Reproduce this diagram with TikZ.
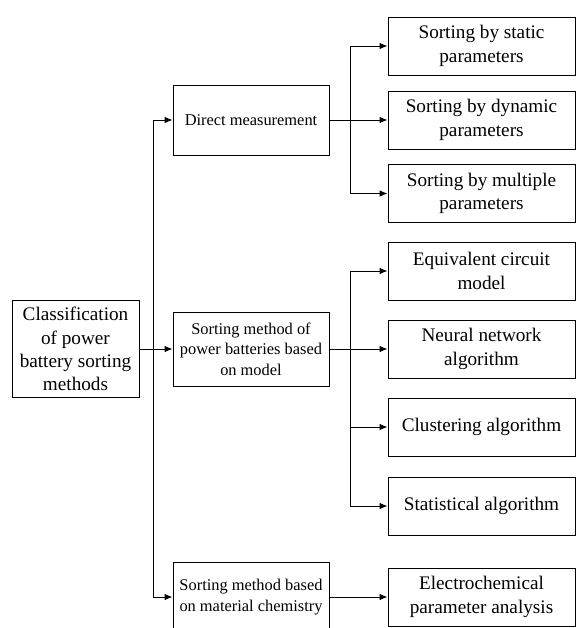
\documentclass[tikz,border=0pt]{standalone}
\usepackage{fontspec}
\setmainfont{Liberation Serif}
\usepackage{tikz}
\usetikzlibrary{arrows.meta}

\tikzset{
  rootbox/.style={draw, align=center, inner sep=2pt, minimum width=95.25pt, minimum height=72.75pt, font=\fontsize{14.4}{17.5}\selectfont},
  midbox/.style={draw, align=center, inner sep=2pt, minimum width=117pt, font=\fontsize{12.3}{15.5}\selectfont},
  leafbox/.style={draw, align=center, inner sep=2pt, minimum width=140.25pt, minimum height=43.5pt, font=\fontsize{14.4}{17.5}\selectfont},
  >={Latex[length=6pt,width=5pt]},
}

\begin{document}
\begin{tikzpicture}[x=0.75pt,y=-0.75pt,line width=0.75pt]
\useasboundingbox (0,0) rectangle (576,628);

\node[rootbox] (root) at (75.5,349) {Classification\\of power\\battery sorting\\methods};

\node[midbox,minimum height=52.5pt] (direct) at (251,120) {Direct measurement};
\node[midbox,minimum height=55.5pt] (model) at (251,349) {Sorting method of\\power batteries based\\on model};
\node[midbox,minimum height=52.5pt] (chem) at (251,597) {Sorting method based\\on material chemistry};

\node[leafbox] (static) at (481.5,46) {Sorting by static\\parameters};
\node[leafbox] (dynamic) at (481.5,120) {Sorting by dynamic\\parameters};
\node[leafbox] (multiple) at (481.5,193.5) {Sorting by multiple\\parameters};

\node[leafbox] (circuit) at (481.5,271) {Equivalent circuit\\model};
\node[leafbox] (neural) at (481.5,349) {Neural network\\algorithm};
\node[leafbox] (cluster) at (481.5,427) {Clustering algorithm};
\node[leafbox] (stat) at (481.5,506) {Statistical algorithm};

\node[leafbox] (electro) at (481.5,597) {Electrochemical\\parameter analysis};

\coordinate (trunk) at (153,349);
\coordinate (fork1) at (350,120);
\coordinate (fork2) at (350,349);

\draw[->] (root) -- (model);
\draw[->] (trunk) |- (direct);
\draw[->] (trunk) |- (chem);

\draw[->] (direct) -- (dynamic);
\draw[->] (fork1) |- (static);
\draw[->] (fork1) |- (multiple);

\draw[->] (model) -- (neural);
\draw[->] (fork2) |- (circuit);
\draw[->] (fork2) |- (cluster);
\draw[->] (fork2) |- (stat);

\draw[->] (chem) -- (electro);
\end{tikzpicture}
\end{document}
